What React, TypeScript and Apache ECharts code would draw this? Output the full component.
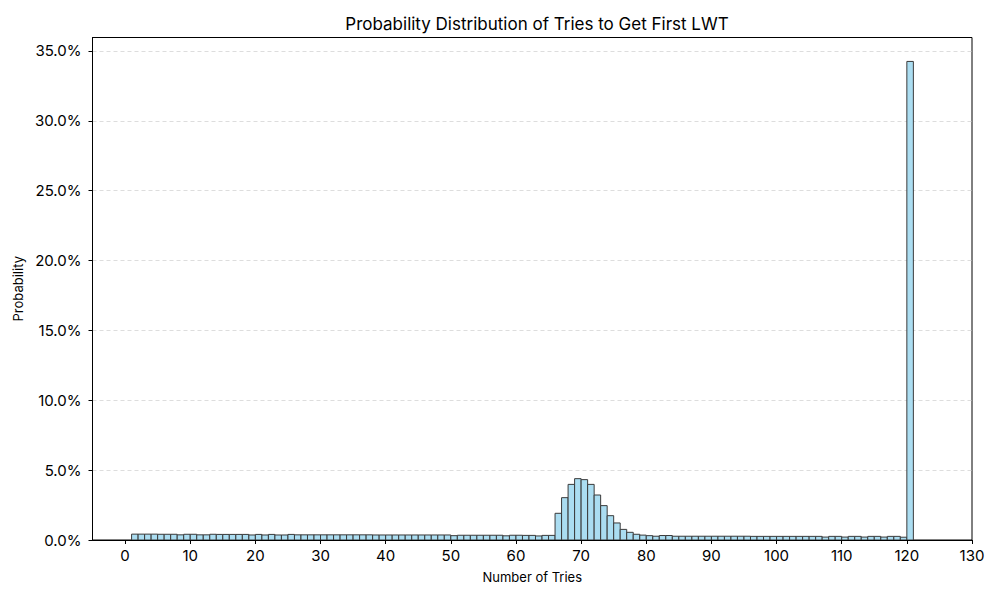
import React, { useEffect, useRef } from "react";
import * as echarts from "echarts";

// Bin start positions (each bin spans [start, start + 1])
const binStarts: number[] = [
  1, 2, 3, 4, 5, 6, 7, 8, 9, 10, 11, 12, 13, 14, 15, 16, 17, 18, 19, 20,
  21, 22, 23, 24, 25, 26, 27, 28, 29, 30, 31, 32, 33, 34, 35, 36, 37, 38, 39, 40,
  41, 42, 43, 44, 45, 46, 47, 48, 49, 50, 51, 52, 53, 54, 55, 56, 57, 58, 59, 60,
  61, 62, 63, 64, 65, 66, 67, 68, 69, 70, 71, 72, 73, 74, 75, 76, 77, 78, 79, 80,
  81, 82, 83, 84, 85, 86, 87, 88, 89, 90, 91, 92, 93, 94, 95, 96, 97, 98, 99, 100,
  101, 102, 103, 104, 105, 106, 107, 108, 109, 110, 111, 112, 113, 114, 115, 116, 117, 118, 119, 120,
];

// Probability (percent) for each bin
const probabilities: number[] = [
  0.42, 0.42, 0.42, 0.42, 0.41, 0.41, 0.41, // 1-7
  0.37, // 8
  0.41, 0.41, // 9-10
  0.37, 0.37, // 11-12
  0.41, 0.4, 0.4, 0.4, 0.4, 0.4, // 13-18
  0.36, // 19
  0.4, // 20
  0.36, // 21
  0.4, // 22
  0.36, 0.36, // 23-24
  0.4, // 25
  0.37, 0.37, 0.37, 0.37, 0.37, 0.37, 0.37, 0.37, 0.37, 0.37, 0.37, 0.37, // 26-37
  0.36, 0.36, 0.36, 0.36, 0.36, 0.36, 0.36, 0.36, 0.36, 0.36, 0.36, 0.36, // 38-49
  0.31, // 50
  0.34, 0.34, 0.34, 0.34, 0.34, 0.34, 0.34, // 51-57
  0.3, // 58
  0.34, 0.34, 0.33, 0.33, // 59-62
  0.29, // 63
  0.33, 0.33, // 64-65
  1.91, 3.03, 3.98, 4.39, 4.32, 3.98, 3.22, 2.46, 1.74, 1.22, 0.76, 0.55, 0.41, // 66-78
  0.35, 0.31, 0.27, 0.32, 0.32, // 79-83
  0.27, 0.27, 0.27, 0.27, 0.27, 0.27, 0.27, 0.27, 0.27, 0.27, 0.27, 0.27, // 84-95
  0.26, 0.26, 0.26, 0.26, 0.26, 0.26, 0.26, 0.26, 0.26, 0.26, 0.26, // 96-106
  0.21, // 107
  0.26, 0.26, // 108-109
  0.21, // 110
  0.26, 0.26, // 111-112
  0.21, // 113
  0.26, 0.26, // 114-115
  0.21, // 116
  0.26, 0.26, // 117-118
  0.2, // 119
  34.25, // 120
];

const xTicks: number[] = [0, 10, 20, 30, 40, 50, 60, 70, 80, 90, 100, 110, 120, 130];
const yTicks: number[] = [0, 5, 10, 15, 20, 25, 30, 35];

const FONT = "Inter, 'Noto Sans', sans-serif";

export default function App() {
  const ref = useRef<HTMLDivElement>(null);

  useEffect(() => {
    if (!ref.current) return;
    const chart = echarts.init(ref.current, undefined, { renderer: "svg" });
    const data = probabilities.map((v, i) => [binStarts[i], binStarts[i] + 1, v]);
    const yMax = Math.max(...probabilities) * 1.05;

    chart.setOption({
      animation: false,
      backgroundColor: "#ffffff",
      textStyle: { fontFamily: FONT },
      title: {
        text: "Probability Distribution of Tries to Get First LWT",
        left: 532,
        top: 10,
        textAlign: "center",
        textStyle: { fontFamily: FONT, fontSize: 17, fontWeight: "normal", color: "#000" },
      },
      grid: {
        left: 92.5,
        right: 28,
        top: 37.5,
        bottom: 60,
        show: true,
        borderColor: "#000",
        borderWidth: 1,
        containLabel: false,
        outerBoundsMode: "none",
      },
      xAxis: {
        type: "value",
        min: -5,
        max: 130,
        name: "Number of Tries",
        nameLocation: "middle",
        nameGap: 30,
        nameTextStyle: { fontFamily: FONT, fontSize: 13, color: "#000" },
        axisLine: { show: true, onZero: false, lineStyle: { color: "#000", width: 1 } },
        axisTick: { show: true, length: 4, customValues: xTicks, lineStyle: { color: "#000" } },
        axisLabel: {
          customValues: xTicks,
          fontFamily: FONT,
          fontSize: 15,
          color: "#000",
          margin: 8,
        },
        splitLine: { show: false },
      },
      yAxis: {
        type: "value",
        min: 0,
        max: yMax,
        interval: 5,
        name: "Probability",
        nameLocation: "middle",
        nameGap: 66,
        nameTextStyle: { fontFamily: FONT, fontSize: 13, color: "#000" },
        axisLine: { show: true, onZero: false, lineStyle: { color: "#000", width: 1 } },
        axisTick: { show: true, length: 4, customValues: yTicks, lineStyle: { color: "#000" } },
        axisLabel: {
          customValues: yTicks,
          fontFamily: FONT,
          fontSize: 15,
          color: "#000",
          margin: 11,
          formatter: (v: number) => v.toFixed(1) + "%",
        },
        splitLine: {
          show: true,
          lineStyle: { color: "#d4d4d4", type: [4, 3], width: 0.8 },
        },
      },
      series: [
        {
          type: "custom",
          data,
          encode: { x: [0, 1], y: 2 },
          clip: true,
          renderItem: (params: any, api: any) => {
            const x0 = api.value(0);
            const x1 = api.value(1);
            const y = api.value(2);
            const p0 = api.coord([x0, y]);
            const p1 = api.coord([x1, 0]);
            return {
              type: "rect",
              shape: { x: p0[0], y: p0[1], width: p1[0] - p0[0], height: p1[1] - p0[1] },
              style: { fill: "#abddf1", stroke: "#3a3a3a", lineWidth: 1 },
            };
          },
        },
      ],
    });

    return () => chart.dispose();
  }, []);

  return (
    <div
      ref={ref}
      style={{ position: "fixed", left: 0, top: 0, width: 1000, height: 600, background: "#fff" }}
    />
  );
}
